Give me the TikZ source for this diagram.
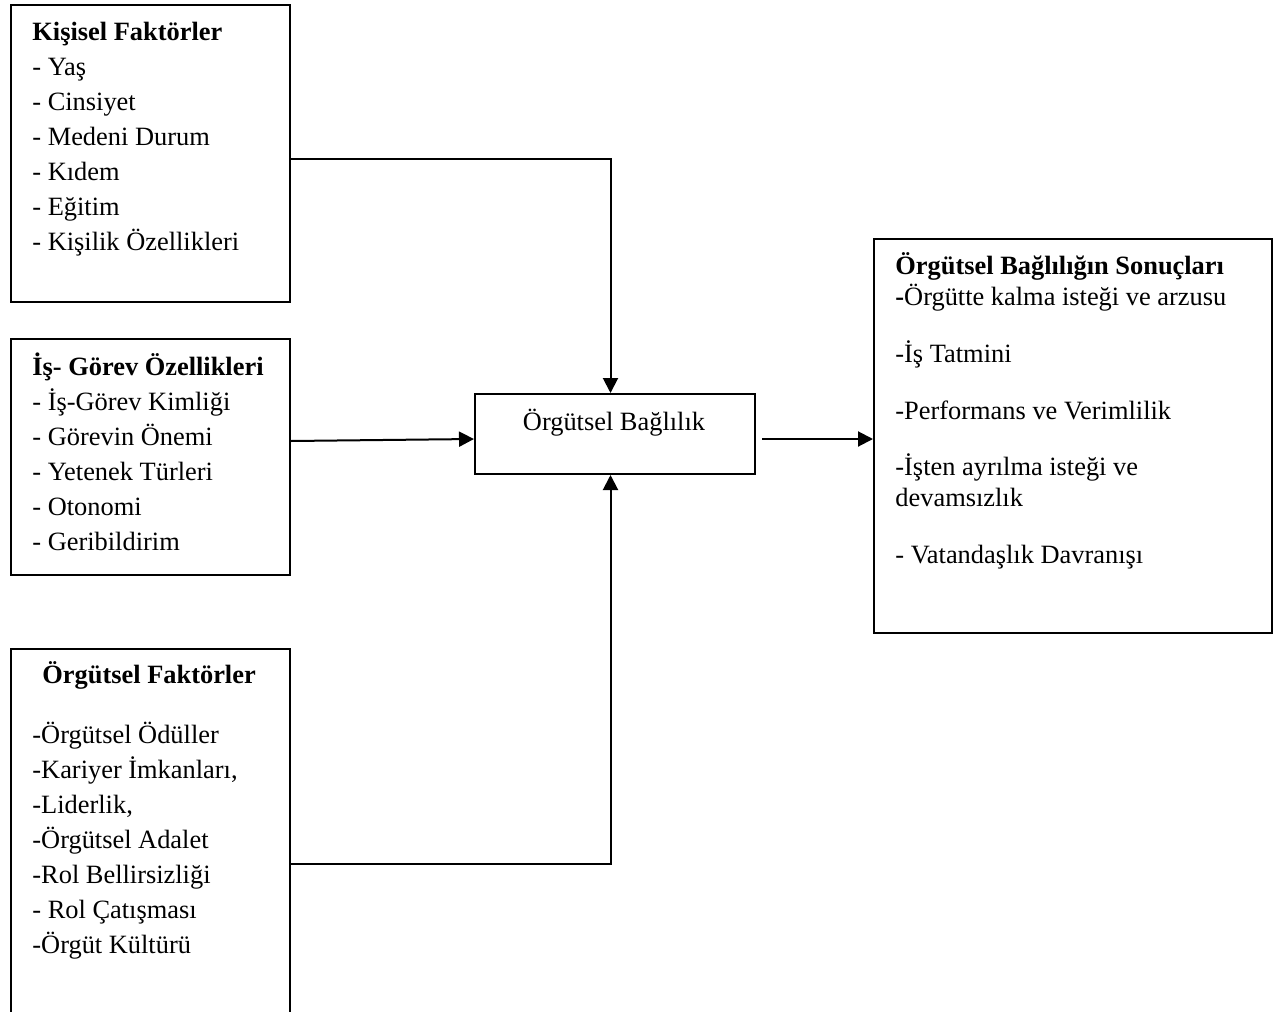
\documentclass[tikz,border=0pt]{standalone}
\usepackage{fontspec}
\setmainfont{Liberation Serif}
\usetikzlibrary{arrows.meta}

\tikzset{
  kutu/.style={draw, line width=1pt, inner sep=0pt, anchor=north west},
  liste/.style={anchor=base west, align=left, inner sep=0pt,
    font=\fontsize{13.2}{17.5}\selectfont},
  sonucliste/.style={liste, font=\fontsize{13.2}{15.5}\selectfont},
  ok/.style={line width=1pt, -{Triangle[length=7.5pt,width=7.5pt]}},
}

\begin{document}
\begin{tikzpicture}[x=0.5pt, y=-0.5pt]
\useasboundingbox (0,0) rectangle (1280,1012);
\clip (0,0) rectangle (1280,1012);

% kutular
\node[kutu, minimum width=139.5pt, minimum height=148.5pt] (kisisel) at (10,4) {};
\node[kutu, minimum width=139.5pt, minimum height=118pt] (isgorev) at (10,338) {};
\node[kutu, minimum width=139.5pt, minimum height=215pt] (orgutsel) at (10,648) {};
\node[kutu, minimum width=140pt, minimum height=40pt] (merkez) at (474,393) {};
\node[kutu, minimum width=199pt, minimum height=197pt] (sonuc) at (873,238) {};

% yazilar (base = son satir)
\node[liste] (kisiselyazi) at (32,250)
  {\textbf{Kişisel Faktörler}\\- Yaş\\- Cinsiyet\\- Medeni Durum\\- Kıdem\\- Eğitim\\- Kişilik Özellikleri};
\node[liste] (isgorevyazi) at (32,550)
  {\textbf{İş- Görev Özellikleri}\\- İş-Görev Kimliği\\- Görevin Önemi\\- Yetenek Türleri\\- Otonomi\\- Geribildirim};
\node[liste] (orgutselyazi) at (32,953)
  {\hspace*{5pt}\textbf{Örgütsel Faktörler}\\[12.5pt]-Örgütsel Ödüller\\-Kariyer İmkanları,\\-Liderlik,\\-Örgütsel Adalet\\-Rol Bellirsizliği\\- Rol Çatışması\\-Örgüt Kültürü};
\node[liste, anchor=base] (merkezyazi) at (614,430) {Örgütsel Bağlılık};
\node[sonucliste] (sonucyazi) at (895,563)
  {\textbf{Örgütsel Bağlılığın Sonuçları}\\\textbf{-}Örgütte kalma isteği ve arzusu\\[13pt]-İş Tatmini\\[13pt]-Performans ve Verimlilik\\[12.5pt]-İşten ayrılma isteği ve\\devamsızlık\\[13pt]- Vatandaşlık Davranışı};

% oklar
\draw[ok] ([yshift=-2.75pt]kisisel.east) -| ([xshift=-2.25pt]merkez.north);
\draw[ok] ([yshift=8pt]isgorev.east) -- ([yshift=-2.5pt]merkez.west);
\draw[ok] (orgutsel.east) -| ([xshift=-2.25pt]merkez.south);
\draw[ok] ([xshift=3pt,yshift=-2.5pt]merkez.east) -- ([yshift=-1.5pt]sonuc.west);
\end{tikzpicture}
\end{document}
